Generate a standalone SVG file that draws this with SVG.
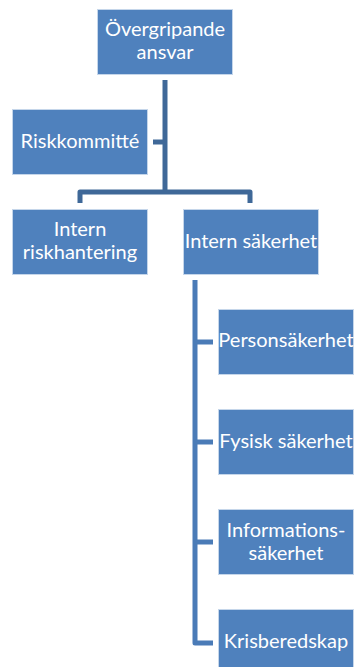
<svg xmlns="http://www.w3.org/2000/svg" width="354" height="667" viewBox="0 0 354 667">
<style>
.box{fill:#4F81BD;stroke:#C5D6EA;stroke-width:1}
.t{font-family:Lato,"Liberation Sans",sans-serif;font-size:20px;fill:#FFFFFF;text-anchor:middle}
.c1{fill:none;stroke:#3F6898;stroke-width:5;stroke-linejoin:round}
.c2{fill:none;stroke:#4A7BB7;stroke-width:5;stroke-linejoin:round}
</style>
<rect width="354" height="667" fill="#FFFFFF"/>
<g id="connectors">
<path class="c1" d="M165 80 V192"/>
<path class="c1" d="M153 142 H165"/>
<path class="c1" d="M80 203 V192 H250 V203"/>
<path class="c2" d="M195 280 V643 H213"/>
<path class="c2" d="M195 342 H213"/>
<path class="c2" d="M195 442 H213"/>
<path class="c2" d="M195 542 H213"/>
</g>
<g id="overgripande">
<rect class="box" x="97.5" y="9.5" width="135" height="65"/>
<text class="t" x="165" y="36">Övergripande</text>
<text class="t" x="165" y="59">ansvar</text>
</g>
<g id="riskkommitte">
<rect class="box" x="12.5" y="109.5" width="135" height="65"/>
<text class="t" x="80" y="148">Riskkommitté</text>
</g>
<g id="intern-riskhantering">
<rect class="box" x="12.5" y="209.5" width="135" height="65"/>
<text class="t" x="80" y="236">Intern</text>
<text class="t" x="80" y="259">riskhantering</text>
</g>
<g id="intern-sakerhet">
<rect class="box" x="183.5" y="209.5" width="135" height="65"/>
<text class="t" x="251" y="248">Intern säkerhet</text>
</g>
<g id="personsakerhet">
<rect class="box" x="218.5" y="309.5" width="135" height="65"/>
<text class="t" x="286" y="347">Personsäkerhet</text>
</g>
<g id="fysisk-sakerhet">
<rect class="box" x="218.5" y="409.5" width="135" height="65"/>
<text class="t" x="286" y="448">Fysisk säkerhet</text>
</g>
<g id="informationssakerhet">
<rect class="box" x="218.5" y="509.5" width="135" height="65"/>
<text class="t" x="286" y="537">Informations-</text>
<text class="t" x="286" y="560">säkerhet</text>
</g>
<g id="krisberedskap">
<rect class="box" x="218.5" y="609.5" width="135" height="65"/>
<text class="t" x="286" y="648">Krisberedskap</text>
</g>
</svg>
